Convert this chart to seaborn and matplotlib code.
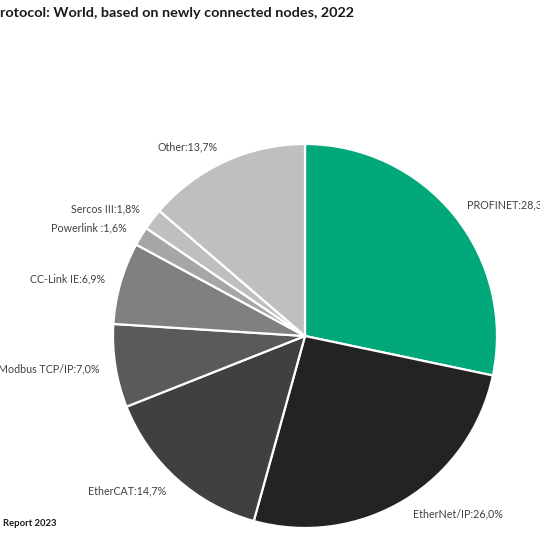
import matplotlib
matplotlib.use("Agg")
import matplotlib.pyplot as plt
import seaborn as sns

protocols = ["PROFINET", "EtherNet/IP", "EtherCAT", "Modbus TCP/IP",
             "CC-Link IE", "Powerlink ", "Sercos III", "Other"]
shares = [28.3, 26.0, 14.7, 7.0, 6.9, 1.6, 1.8, 13.7]
colors = ["#00A87A", "#232323", "#404040", "#5A5A5A",
          "#808080", "#A6A6A6", "#BFBFBF", "#BFBFBF"]
title_text = "rotocol: World, based on newly connected nodes, 2022"
source_text = "Report 2023"

sns.set_theme(style="white")
plt.rcParams['font.family'] = ['Lato', 'DejaVu Sans']

fig = plt.figure(figsize=(5.4, 5.4), dpi=100)
cx, cy, r = 305 / 540, 1 - 336 / 540, 192 / 540
ax = fig.add_axes([cx - r, cy - r, 2 * r, 2 * r])

labels = [f"{p}:{str(v).replace('.', ',')}%" for p, v in zip(protocols, shares)]
wedges, texts = ax.pie(shares, labels=labels, colors=colors, startangle=90,
                       counterclock=False, labeldistance=1.085,
                       wedgeprops=dict(edgecolor="white", linewidth=1.6),
                       textprops=dict(color="#404040", fontsize=7.7))
for t in texts:
    t.set_verticalalignment("center")
ax.set_xlim(-1, 1)
ax.set_ylim(-1, 1)
ax.set_aspect("equal")
ax.axis("off")

fig.text(0.0, 1 - 13 / 540, title_text, ha="left", va="center",
         fontsize=10.4, fontweight="bold", color="#1a1a1a")
fig.text(3 / 540, 1 - 523 / 540, source_text, ha="left", va="center",
         fontsize=6.8, fontweight="bold", color="#1a1a1a")

fig.savefig("out.png", dpi=100, facecolor="white")
